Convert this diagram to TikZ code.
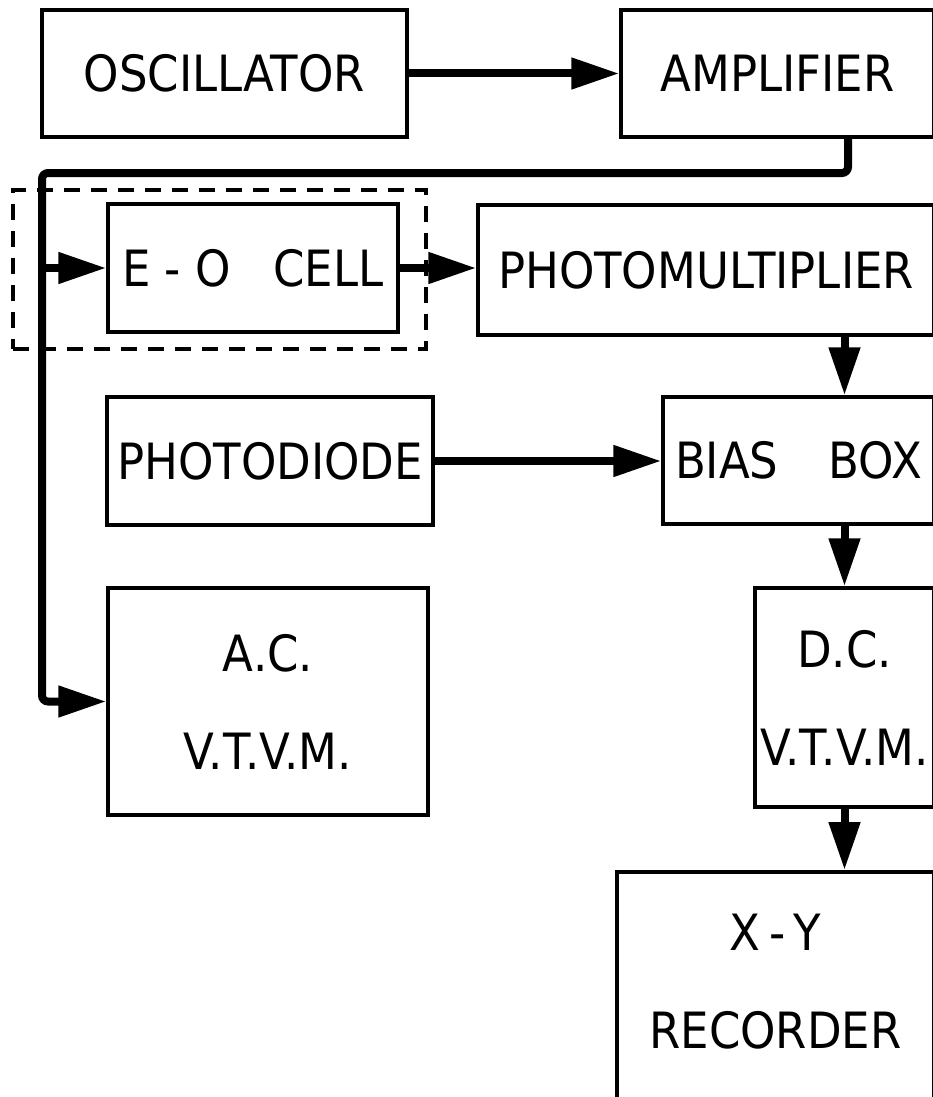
\documentclass[tikz,border=0pt]{standalone}
\usepackage{fontspec}
\setmainfont{DejaVu Sans}[FakeStretch=0.9]
\usepackage{tikz}
\usetikzlibrary{arrows.meta,positioning,calc}
\tikzset{
  blockbox/.style={draw=black,line width=3.5pt,inner sep=0pt,align=center},
  groupbox/.style={draw=black,line width=3.5pt,dash pattern=on 16pt off 11pt},
  signal/.style={line width=8pt,-{Triangle[length=48pt,width=30pt]}},
}

\begin{document}
\begin{tikzpicture}[x=1pt,y=-1pt,font=\fontsize{50}{98}\selectfont]
\path[use as bounding box] (0,0) rectangle (933,1097);
\node[groupbox,minimum width=413pt,minimum height=159pt] (eogroup) at (219.5,269.5) {};
\node[blockbox,minimum width=365pt,minimum height=127pt] (osc) at (224.5,73.5) {OSCILLATOR};
\node[blockbox,minimum width=313pt,minimum height=127pt] (amp) at (777.5,73.5) {AMPLIFIER};
\node[blockbox,minimum width=290pt,minimum height=128pt] (eo) at (253,268) {E\;-\;O\ \ \ CELL};
\node[blockbox,minimum width=456pt,minimum height=130pt] (pm) at (706,270) {PHOTOMULTIPLIER};
\node[blockbox,minimum width=326pt,minimum height=128pt] (pd) at (270,461) {PHOTODIODE};
\node[blockbox,minimum width=271pt,minimum height=127pt] (bias) at (798.5,460.5) {BIAS\quad BOX};
\node[blockbox,minimum width=320pt,minimum height=227pt] (acv) at (268,701.5) {A.C.\\V.T.V.M.};
\node[blockbox,minimum width=179pt,minimum height=219pt] (dcv) at (844.5,697.5) {D.C.\\V.T.V.M.};
\node[blockbox,minimum width=317pt,anchor=north,inner ysep=42pt,text depth=60pt] (rec) at (775.5,870) {X\,-\,Y\\RECORDER};
\coordinate (bus) at (42,173);
\draw[signal] (osc.east) -- (amp.west);
\draw[signal,rounded corners=6pt] ([xshift=70.5pt]amp.south) |- (bus) |- (acv.west);
\draw[signal] (bus |- eo.west) -- (eo.west);
\draw[signal] (eo.east) -- (eo.east -| pm.west);
\draw[signal] (pd.east) -- (pd.east -| bias.west);
\draw[signal] (pm.south -| dcv.north) -- (bias.north -| dcv.north);
\draw[signal] (bias.south -| dcv.north) -- (dcv.north);
\draw[signal] (dcv.south) -- (rec.north -| dcv.south);
\end{tikzpicture}
\end{document}
